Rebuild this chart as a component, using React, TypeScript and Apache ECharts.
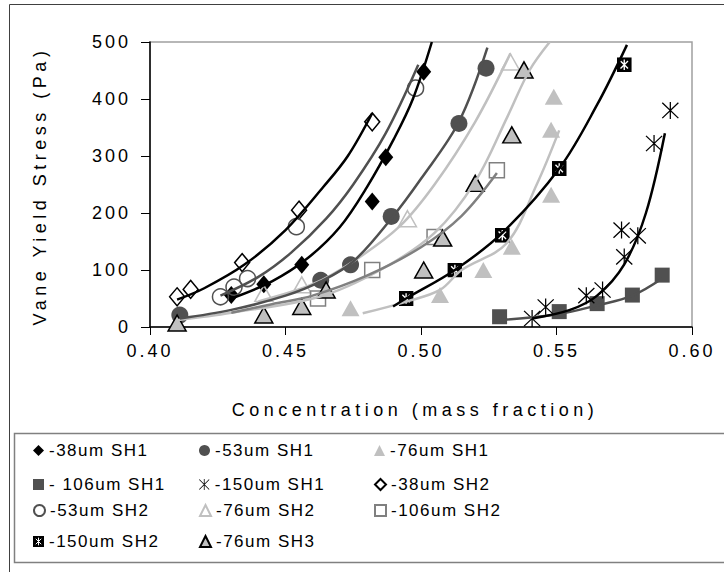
import React, { useEffect, useRef } from "react";
import * as echarts from "echarts";

// ---------- data ----------
const xTicks = [0.4, 0.45, 0.5, 0.55, 0.6];
const yTicks = [0, 100, 200, 300, 400, 500];

const s38SH1X = [0.43, 0.442, 0.456, 0.482, 0.487, 0.501];
const s38SH1Y = [56, 75, 109, 220, 298, 448];
const s53SH1X = [0.411, 0.463, 0.474, 0.489, 0.514, 0.524];
const s53SH1Y = [21, 82, 109, 194, 357, 454];
const s76SH1X = [0.474, 0.507, 0.523, 0.5335, 0.548, 0.548, 0.549];
const s76SH1Y = [33, 56, 100, 141, 232, 346, 404];
const s106SH1X = [0.529, 0.551, 0.565, 0.578, 0.589];
const s106SH1Y = [18, 27, 41, 56, 91];
const s150SH1X = [0.541, 0.546, 0.561, 0.567, 0.575, 0.574, 0.58, 0.586, 0.592];
const s150SH1Y = [15, 35, 55, 65, 123, 170, 160, 322, 380];
const s38SH2X = [0.41, 0.415, 0.434, 0.455, 0.482];
const s38SH2Y = [53, 66, 113, 205, 360];
const s53SH2X = [0.426, 0.431, 0.436, 0.454, 0.498];
const s53SH2Y = [53, 70, 85, 176, 419];
const s76SH2X = [0.442, 0.456, 0.495, 0.533];
const s76SH2Y = [59, 74, 190, 465];
const s106SH2X = [0.462, 0.482, 0.505, 0.528];
const s106SH2Y = [50, 100, 158, 275];
const s150SH2X = [0.4945, 0.5125, 0.53, 0.551, 0.575];
const s150SH2Y = [50, 100, 161, 278, 460];
const s76SH3X = [0.41, 0.442, 0.456, 0.465, 0.501, 0.508, 0.52, 0.5335, 0.538];
const s76SH3Y = [7, 21, 36, 65, 100, 156, 252, 337, 451];

// fitted curves
const f38SH1X = [0.43, 0.445, 0.458, 0.47, 0.48, 0.49, 0.497, 0.504];
const f38SH1Y = [50, 80, 120, 175, 245, 330, 400, 500];
const f38SH2X = [0.41, 0.42, 0.435, 0.45, 0.464, 0.473, 0.482];
const f38SH2Y = [48, 68, 110, 170, 246, 300, 375];
const f53SH2X = [0.426, 0.44, 0.452, 0.465, 0.475, 0.487, 0.499];
const f53SH2Y = [55, 88, 130, 190, 250, 340, 460];
const f53SH1X = [0.411, 0.43, 0.45, 0.463, 0.475, 0.489, 0.5, 0.514, 0.5245];
const f53SH1Y = [15, 30, 55, 80, 115, 190, 260, 360, 490];
const f76SH2X = [0.44, 0.46, 0.475, 0.492, 0.505, 0.52, 0.533];
const f76SH2Y = [45, 75, 115, 176, 250, 360, 480];
const f106SH2X = [0.43, 0.445, 0.46, 0.48, 0.5, 0.515, 0.528];
const f106SH2Y = [25, 40, 55, 90, 140, 195, 270];
const f76SH3X = [0.41, 0.43, 0.4625, 0.485, 0.505, 0.52, 0.532, 0.54, 0.5475];
const f76SH3Y = [12, 25, 53, 100, 165, 255, 370, 450, 500];
const f76SH1X = [0.4785, 0.495, 0.507, 0.515, 0.5316, 0.5427, 0.551];
const f76SH1Y = [24, 45, 65, 100, 147, 250, 345];
const f150SH2X = [0.4897, 0.4945, 0.5125, 0.53, 0.551, 0.565, 0.576];
const f150SH2Y = [36, 50, 100, 165, 278, 390, 495];
const f150SH1X = [0.541, 0.555, 0.565, 0.575, 0.583, 0.59];
const f150SH1Y = [15, 30, 55, 110, 200, 340];
const f106SH1X = [0.529, 0.55, 0.565, 0.578, 0.589];
const f106SH1Y = [12, 22, 38, 55, 85];

const pairs = (xs: number[], ys: number[]) => xs.map((v, i) => [v, ys[i]]);

const DARK = "#505050";
const LIGHT = "#c0c0c0";
const MID = "#808080";

const starPath =
  "path://M9.3 0h1.4v20h-1.4z M0.5 1.5L1.5 0.5L19.5 18.5L18.5 19.5z M18.5 0.5L19.5 1.5L1.5 19.5L0.5 18.5z";
const boxStarSvg =
  '<svg xmlns="http://www.w3.org/2000/svg" width="20" height="20" viewBox="0 0 20 20"><rect width="20" height="20" fill="#000"/><path d="M10 3v14M5 5l10 10M15 5L5 15" stroke="#fff" stroke-width="1.8" fill="none"/></svg>';
const boxStar = "image://data:image/svg+xml;base64," + btoa(boxStarSvg);

type M = {
  name: string;
  xs: number[];
  ys: number[];
  symbol: string;
  size: number | number[];
  color: string;
  border?: string;
  bw?: number;
};

const markers: M[] = [
  { name: "-38um SH1", xs: s38SH1X, ys: s38SH1Y, symbol: "diamond", size: [15, 18], color: "#000" },
  { name: "-53um SH1", xs: s53SH1X, ys: s53SH1Y, symbol: "circle", size: 17, color: DARK },
  { name: "-76um SH1", xs: s76SH1X, ys: s76SH1Y, symbol: "triangle", size: [18, 16], color: LIGHT },
  { name: "- 106um SH1", xs: s106SH1X, ys: s106SH1Y, symbol: "rect", size: 15, color: DARK },
  { name: "-150um SH1", xs: s150SH1X, ys: s150SH1Y, symbol: starPath, size: 17, color: "#000" },
  { name: "-38um SH2", xs: s38SH2X, ys: s38SH2Y, symbol: "diamond", size: [15, 18], color: "rgba(255,255,255,0)", border: "#000", bw: 1.5 },
  { name: "-53um SH2", xs: s53SH2X, ys: s53SH2Y, symbol: "circle", size: 16, color: "rgba(255,255,255,0)", border: DARK, bw: 1.5 },
  { name: "-76um SH2", xs: s76SH2X, ys: s76SH2Y, symbol: "triangle", size: [18, 16], color: "rgba(255,255,255,0)", border: LIGHT, bw: 1.5 },
  { name: "-106um SH2", xs: s106SH2X, ys: s106SH2Y, symbol: "rect", size: 15, color: "rgba(255,255,255,0)", border: MID, bw: 1.5 },
  { name: "-150um SH2", xs: s150SH2X, ys: s150SH2Y, symbol: boxStar, size: 15, color: "#000" },
  { name: "-76um SH3", xs: s76SH3X, ys: s76SH3Y, symbol: "triangle", size: [18, 16], color: LIGHT, border: "#000", bw: 1.5 },
];

const fits = [
  { xs: f76SH3X, ys: f76SH3Y, color: LIGHT },
  { xs: f76SH1X, ys: f76SH1Y, color: LIGHT },
  { xs: f76SH2X, ys: f76SH2Y, color: LIGHT },
  { xs: f106SH2X, ys: f106SH2Y, color: MID },
  { xs: f106SH1X, ys: f106SH1Y, color: DARK },
  { xs: f53SH1X, ys: f53SH1Y, color: DARK },
  { xs: f53SH2X, ys: f53SH2Y, color: DARK },
  { xs: f38SH1X, ys: f38SH1Y, color: "#000" },
  { xs: f38SH2X, ys: f38SH2Y, color: "#000" },
  { xs: f150SH2X, ys: f150SH2Y, color: "#000" },
  { xs: f150SH1X, ys: f150SH1Y, color: "#000" },
];

// legend placement: [left of icon, centre y]
const legendPos: number[][] = [
  [33, 448], [199, 448], [374, 448],
  [33, 482], [199, 482], [374, 482],
  [33, 508], [199, 508], [374, 508],
  [33, 539], [199, 539],
];

const FONT = "'Liberation Sans', Arial, sans-serif";

export default function App() {
  const ref = useRef<HTMLDivElement>(null);
  useEffect(() => {
    if (!ref.current) return;
    const chart = echarts.init(ref.current, undefined, { renderer: "svg" });
    const series: any[] = [];
    markers.forEach((m) => {
      series.push({
        type: "scatter",
        name: m.name,
        data: pairs(m.xs, m.ys),
        symbol: m.symbol,
        symbolSize: m.size,
        itemStyle: {
          color: m.color,
          borderColor: m.border || m.color,
          borderWidth: m.bw || 0,
          opacity: 1,
        },
        z: 2,
      });
    });
    fits.forEach((f, i) => {
      series.push({
        type: "line",
        name: "fit" + i,
        data: pairs(f.xs, f.ys),
        smooth: 0.35,
        showSymbol: false,
        symbol: "none",
        lineStyle: { color: f.color, width: 2.5 },
        z: 3,
      });
    });

    const legends = markers.map((m, i) => ({
      data: [m.name],
      left: legendPos[i][0],
      top: legendPos[i][1] - 6,
      padding: 0,
      itemWidth: 11,
      itemHeight: 11,
      itemGap: 0,
      selectedMode: false,
      textStyle: { fontSize: 17, color: "#000", fontFamily: FONT + ", lsleg", padding: [0, 0, 0, 0] },
    }));

    chart.setOption({
      animation: false,
      backgroundColor: "#fff",
      grid: {
        left: 150,
        right: 32,
        top: 42,
        bottom: 245,
        show: true,
        borderColor: "#a0a0a0",
        borderWidth: 1.5,
      },
      xAxis: {
        type: "value",
        min: xTicks[0],
        max: xTicks[xTicks.length - 1],
        interval: 0.05,
        axisLine: { show: true, onZero: false, lineStyle: { color: "#000", width: 1.5 } },
        axisTick: { show: true, inside: false, length: 8, lineStyle: { color: "#000" } },
        splitLine: { show: false },
        axisLabel: {
          color: "#000",
          fontSize: 18,
          fontFamily: FONT + ", lstick",
          margin: 15,
          formatter: (v: number) => v.toFixed(2),
        },
      },
      yAxis: {
        type: "value",
        min: yTicks[0],
        max: yTicks[yTicks.length - 1],
        interval: 100,
        axisLine: { show: true, lineStyle: { color: "#000", width: 1.5 } },
        axisTick: { show: true, inside: false, length: 9, lineStyle: { color: "#000" } },
        splitLine: { show: false },
        axisLabel: {
          color: "#000",
          fontSize: 18,
          fontFamily: FONT + ", lstick",
          margin: 19,
        },
      },
      legend: legends,
      graphic: [
        {
          type: "rect",
          shape: { x: 9.5, y: 4.5, width: 730, height: 580 },
          style: { fill: "none", stroke: "#404040", lineWidth: 1 },
          z: -1,
        },
        {
          type: "rect",
          shape: { x: 14.5, y: 433.5, width: 730, height: 129 },
          style: { fill: "none", stroke: "#808080", lineWidth: 1.5 },
          z: -1,
        },
        {
          type: "text",
          x: 415,
          y: 410,
          style: {
            text: "Concentration (mass fraction)",
            fontSize: 18,
            fontFamily: FONT + ", lstitle",
            fill: "#000",
            textAlign: "center",
            textVerticalAlign: "middle",
          },
        },
        {
          type: "text",
          x: 40,
          y: 186,
          rotation: Math.PI / 2,
          style: {
            text: "Vane Yield Stress (Pa)",
            fontSize: 18,
            fontFamily: FONT + ", lstitle",
            fill: "#000",
            textAlign: "center",
            textVerticalAlign: "middle",
          },
        },
      ],
      series,
    });
    return () => chart.dispose();
  }, []);
  return (
    <>
      <style>{`
        text[style*="lstitle"] { letter-spacing: 4.5px; }
        text[style*="lstick"] { letter-spacing: 3px; }
        text[style*="lsleg"] { letter-spacing: 1.5px; }
      `}</style>
      <div
        ref={ref}
        style={{ position: "fixed", left: 0, top: 0, width: 724, height: 572, background: "#fff" }}
      />
    </>
  );
}
